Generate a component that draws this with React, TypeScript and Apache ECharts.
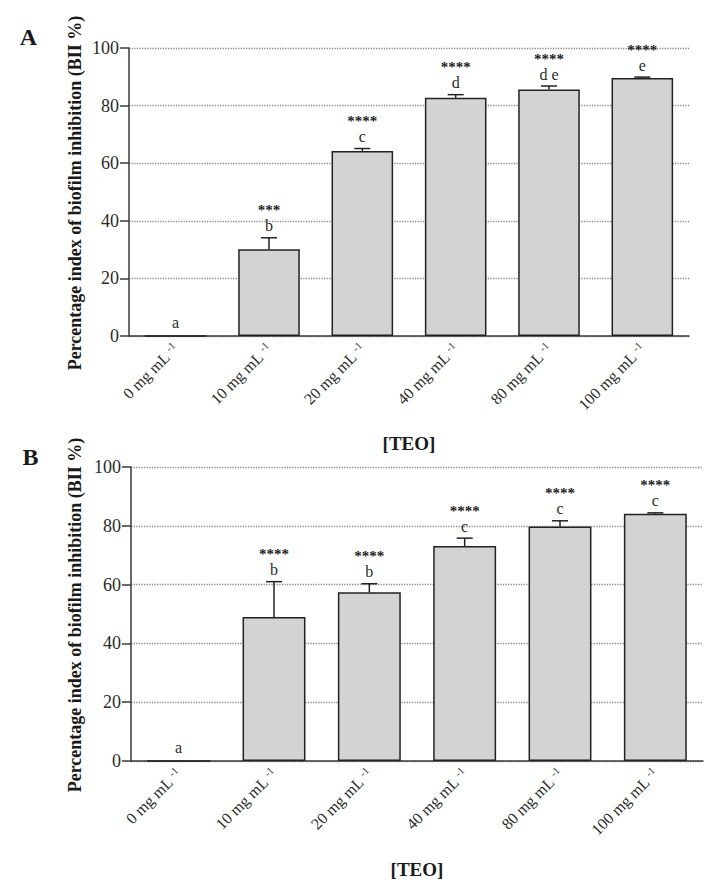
import React, { useEffect, useRef } from "react";
import * as echarts from "echarts";

const categories = ["0", "10", "20", "40", "80", "100"];
const yTicks = [0, 20, 40, 60, 80, 100];

const meansA = [0, 30.1, 64.2, 82.7, 85.6, 89.6];
const sdA = [0, 4.0, 0.9, 1.1, 1.2, 0.3];
const lettersA = ["a", "b", "c", "d", "d e", "e"];
const starsA = ["", "***", "****", "****", "****", "****"];

const meansB = [0, 49.0, 57.4, 73.1, 79.8, 84.1];
const sdB = [0, 12.0, 2.9, 2.7, 1.9, 0.3];
const lettersB = ["a", "b", "b", "c", "c", "c"];
const starsB = ["", "****", "****", "****", "****", "****"];

const yTitle = "Percentage index of biofilm inhibition (BII %)";
const xTitle = "[TEO]";

const SERIF = '"Liberation Serif", "Times New Roman", serif';
const TXT = "#2b2b2b";
const AXIS = "#3a3a3a";

function App() {
  const ref = useRef<HTMLDivElement>(null);

  useEffect(() => {
    document.body.style.margin = "0";
    if (!ref.current) return;
    const chart = echarts.init(ref.current, undefined, { renderer: "svg" });

    const grids = [
      { left: 129, top: 48, width: 560, height: 288 },
      { left: 131, top: 467, width: 572, height: 294 },
    ];

    const xAxis = grids.map((_, k) => ({
      type: "category",
      gridIndex: k,
      data: categories,
      axisLine: { lineStyle: { color: AXIS, width: 1.5 } },
      axisTick: { alignWithLabel: true, length: 8, lineStyle: { color: AXIS, width: 1.5 } },
      axisLabel: {
        rotate: 45,
        margin: 10,
        interval: 0,
        formatter: (v: string) => `{n|${v} mg mL }{s|-1}`,
        rich: {
          n: { fontFamily: SERIF, fontSize: 16, color: TXT },
          s: { fontFamily: SERIF, fontSize: 10.5, color: TXT, verticalAlign: "top", padding: [0, 0, 6, 0] },
        },
      },
      splitLine: { show: false },
    }));

    const yAxis = grids.map((_, k) => ({
      type: "value",
      gridIndex: k,
      min: yTicks[0],
      max: yTicks[yTicks.length - 1],
      interval: 20,
      axisLine: { show: true, lineStyle: { color: AXIS, width: 1.5 } },
      axisTick: { show: true, length: 9, lineStyle: { color: AXIS, width: 1.5 } },
      axisLabel: { margin: 10, fontFamily: SERIF, fontSize: 18, color: TXT },
      splitLine: { show: true, lineStyle: { type: "dotted", color: "#8a8a8a", width: 1.3 } },
    }));

    const panels = [
      { means: meansA, sd: sdA, letters: lettersA, stars: starsA },
      { means: meansB, sd: sdB, letters: lettersB, stars: starsB },
    ];

    const series: any[] = [];
    panels.forEach((p, k) => {
      series.push({
        type: "bar",
        xAxisIndex: k,
        yAxisIndex: k,
        data: p.means,
        barWidth: "66%",
        itemStyle: { color: "#d3d3d3", borderColor: "#222", borderWidth: 1.5 },
        silent: true,
      });
      series.push({
        type: "custom",
        xAxisIndex: k,
        yAxisIndex: k,
        z: 3,
        silent: true,
        data: p.means.map((m, i) => [i, m, m + p.sd[i]]),
        renderItem: (params: any, api: any) => {
          const i = api.value(0);
          const lo = api.value(1);
          const hi = api.value(2);
          if (!(hi > lo)) return null;
          const p0 = api.coord([i, lo]);
          const p1 = api.coord([i, hi]);
          const st = { stroke: "#222", lineWidth: 1.5 };
          return {
            type: "group",
            children: [
              { type: "line", shape: { x1: p0[0], y1: p0[1], x2: p1[0], y2: p1[1] }, style: st },
              { type: "line", shape: { x1: p1[0] - 8, y1: p1[1], x2: p1[0] + 8, y2: p1[1] }, style: st },
            ],
          };
        },
      });
      series.push({
        type: "custom",
        xAxisIndex: k,
        yAxisIndex: k,
        z: 4,
        silent: true,
        data: p.means.map((m, i) => [i, m + p.sd[i]]),
        renderItem: (params: any, api: any) => {
          const idx = params.dataIndex;
          const i = api.value(0);
          const top = api.value(1);
          const c = api.coord([i, top]);
          const children: any[] = [];
          const isZero = top <= 0;
          children.push({
            type: "text",
            x: c[0],
            y: c[1] - (isZero ? 14 : 12),
            style: {
              text: p.letters[idx],
              fill: TXT,
              fontFamily: SERIF,
              fontSize: 16,
              lineHeight: 12,
              align: "center",
              verticalAlign: "middle",
            },
          });
          if (p.stars[idx]) {
            children.push({
              type: "text",
              x: c[0],
              y: c[1] - 27.5,
              style: {
                text: p.stars[idx],
                fill: "#1e1e1e",
                fontFamily: SERIF,
                fontSize: 15,
                lineHeight: 8,
                fontWeight: "bold",
                align: "center",
                verticalAlign: "middle",
              },
            });
          }
          return { type: "group", children };
        },
      });
    });

    const titleStyle = (text: string, size: number) => ({
      text,
      fill: "#1a1a1a",
      fontFamily: SERIF,
      fontSize: size,
      fontWeight: "bold",
      align: "center",
      verticalAlign: "middle",
    });

    const graphic = [
      { type: "text", x: 28.5, y: 37, style: titleStyle("A", 24) },
      { type: "text", x: 30.5, y: 457, style: titleStyle("B", 24) },
      { type: "text", x: 74.5, y: 193, rotation: Math.PI / 2, style: titleStyle(yTitle, 18) },
      { type: "text", x: 74.5, y: 615, rotation: Math.PI / 2, style: titleStyle(yTitle, 18) },
      { type: "text", x: 409, y: 443, style: titleStyle(xTitle, 19) },
      { type: "text", x: 417, y: 869, style: titleStyle(xTitle, 19) },
    ];

    chart.setOption({
      animation: false,
      grid: grids,
      xAxis,
      yAxis,
      series,
      graphic,
    } as any);

    return () => chart.dispose();
  }, []);

  return <div ref={ref} style={{ width: 727, height: 896 }} />;
}

export default App;
